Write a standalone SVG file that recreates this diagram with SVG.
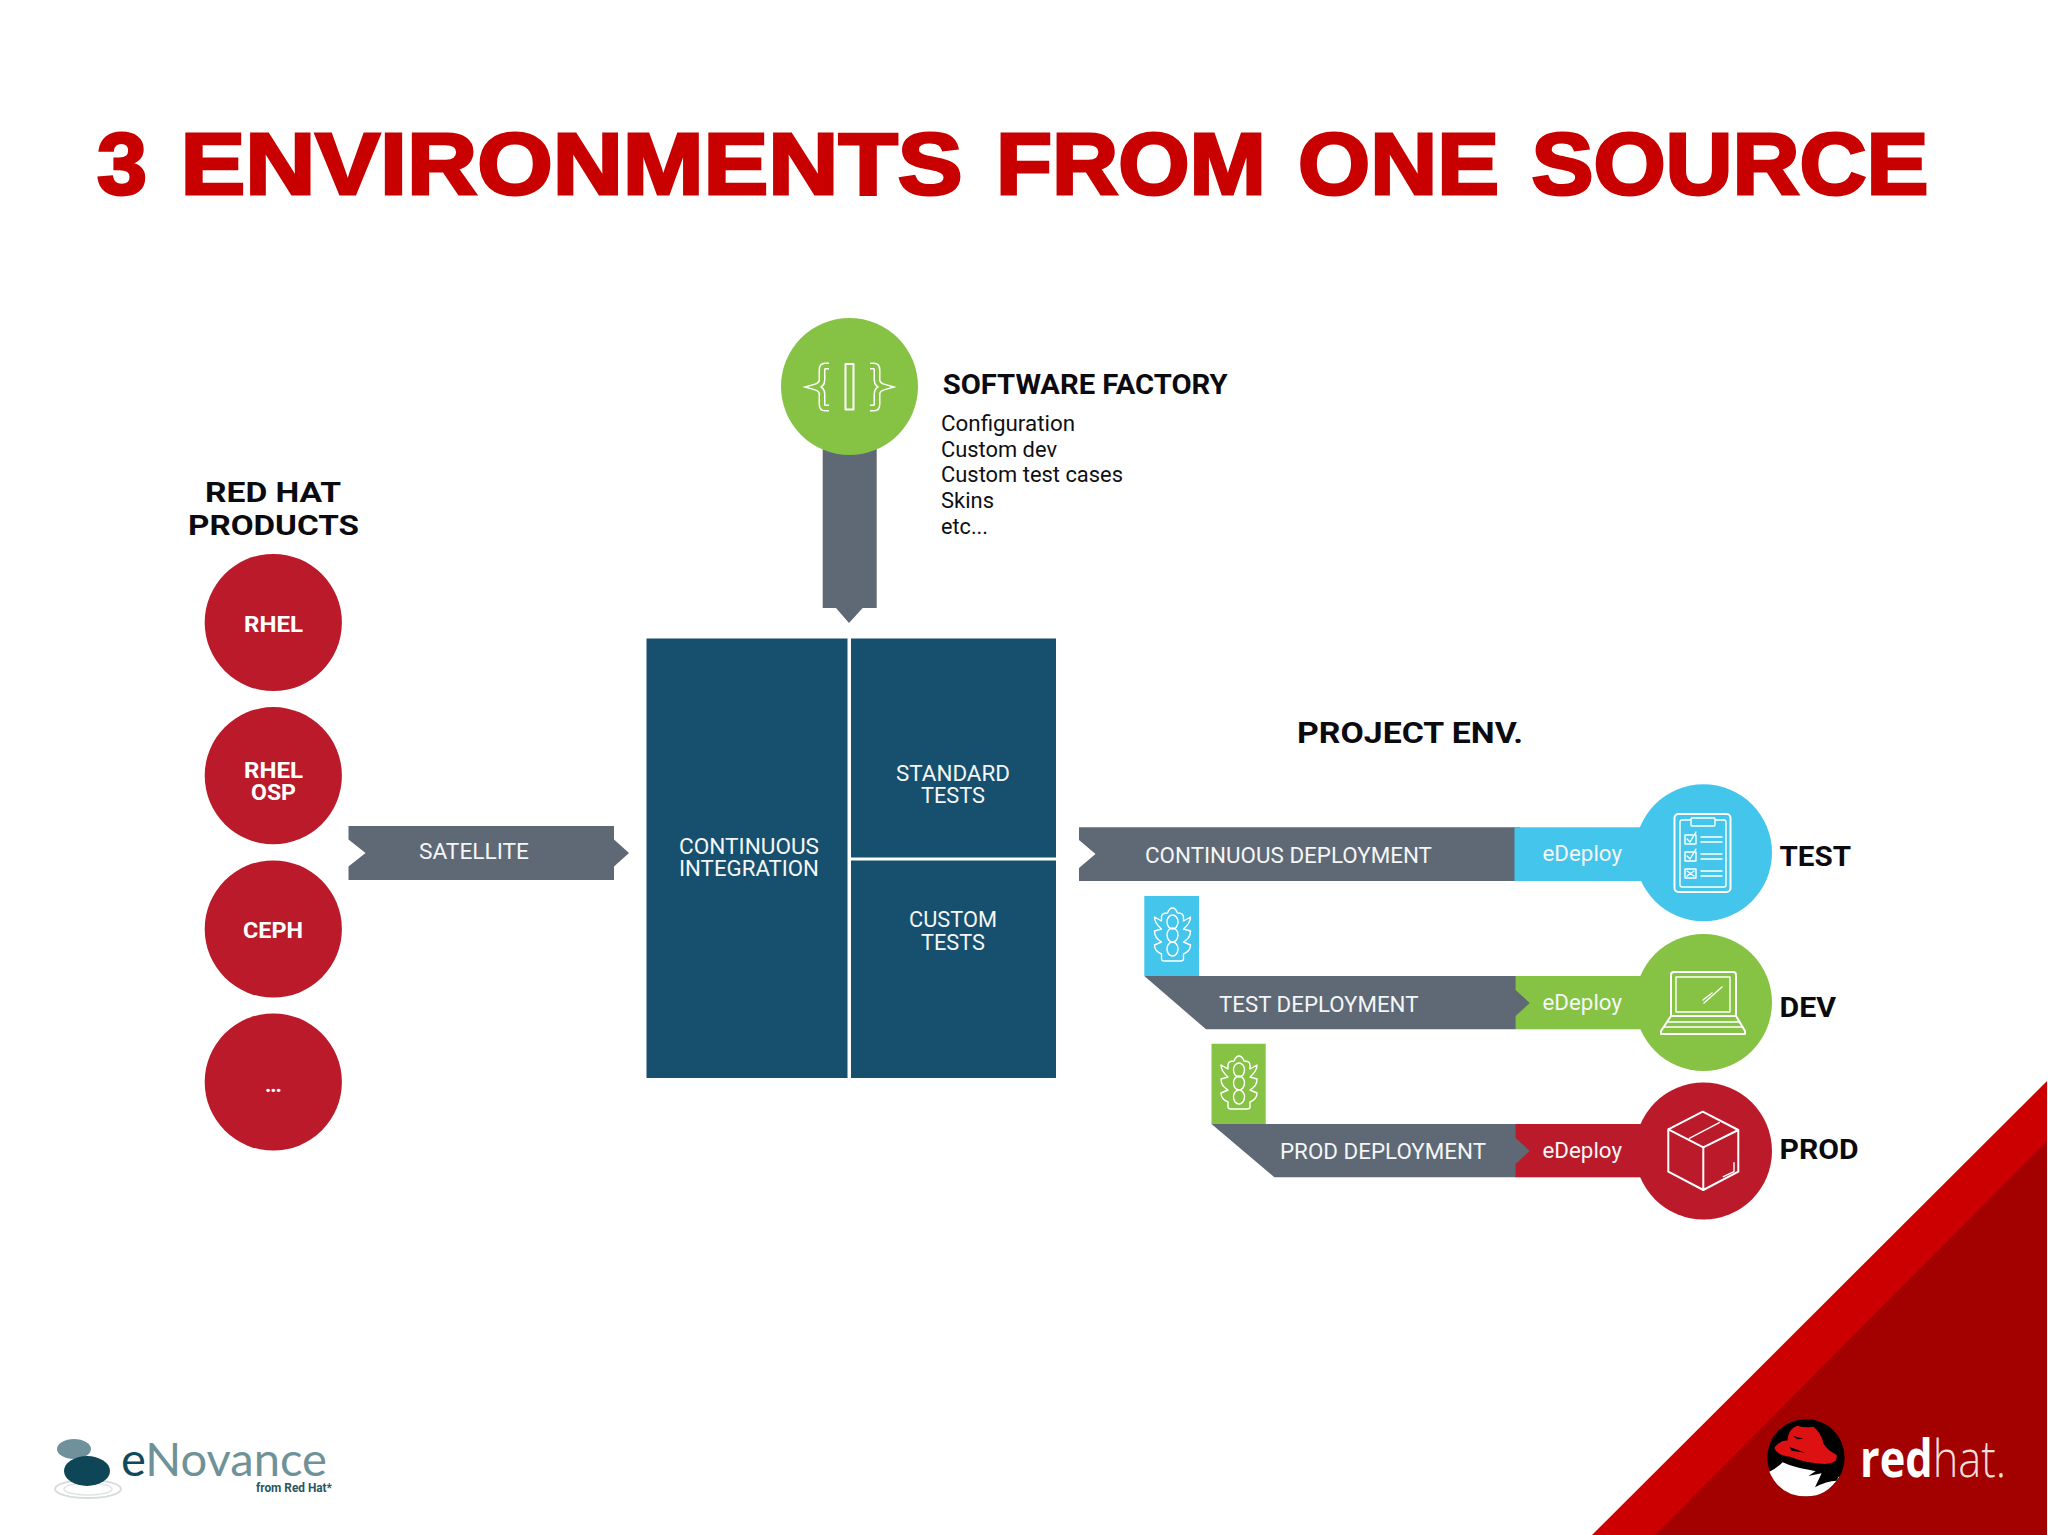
<svg xmlns="http://www.w3.org/2000/svg" xmlns:xlink="http://www.w3.org/1999/xlink" width="2048" height="1535" viewBox="0 0 2048 1535">
<style>
text{font-family:Roboto,"Noto Sans",sans-serif}
.title{font-family:"Liberation Sans",Arial,sans-serif;font-weight:700;font-size:88px;fill:#c80000;stroke:#c80000;stroke-width:3px;stroke-linejoin:miter}
.h{font-weight:700;fill:#0b0b0f;font-size:28px}
.b{fill:#0f0f14;font-size:22px}
.w{fill:#f4f6f7;font-size:22px}
.wb{fill:#fff;font-size:22px;font-weight:700}
.red{fill:#bb1a2b}.grey{fill:#5f6875}.navy{fill:#17506e}.blue{fill:#44c5ec}.green{fill:#86c344}
.ic{fill:none;stroke:#fff;stroke-width:2;stroke-linejoin:round;stroke-linecap:round}
.thin{stroke-width:1.4}
</style>
<defs>
<symbol id="light" overflow="visible">
<path class="ic thin" d="M-11 -14V-18Q-11 -22 -5 -22Q-3 -27 0 -27Q3 -27 5 -22Q11 -22 11 -18V-14L18 -18Q18 -12 11 -6L18 -4Q18 3 11 7L18 10Q18 16 11 19V24Q11 26 8 26H-8Q-11 26 -11 24V19Q-18 16 -18 10L-11 7Q-18 3 -18 -4L-11 -6Q-18 -12 -18 -18Z"/>
<ellipse class="ic thin" cx="0" cy="-13" rx="5.5" ry="7"/>
<ellipse class="ic thin" cx="0" cy="0" rx="5.5" ry="7"/>
<ellipse class="ic thin" cx="0" cy="14" rx="5.5" ry="7"/>
</symbol>
</defs>
<rect width="2048" height="1535" fill="#fff"/>
<text class="title" y="194"><tspan x="97" textLength="50" lengthAdjust="spacingAndGlyphs">3</tspan> <tspan x="180.5" textLength="782" lengthAdjust="spacingAndGlyphs">ENVIRONMENTS</tspan> <tspan x="996" textLength="270" lengthAdjust="spacingAndGlyphs">FROM</tspan> <tspan x="1298" textLength="201" lengthAdjust="spacingAndGlyphs">ONE</tspan> <tspan x="1531.5" textLength="397" lengthAdjust="spacingAndGlyphs">SOURCE</tspan></text>

<g id="connectors">
<path class="grey" d="M348.5 826H614V839.5L629 853L614 866.5V880H348.5V866.5L365.5 853L348.5 839.5Z"/>
<path class="grey" d="M822.7 440H876.7V608H862.7L849 623L836 608H822.7Z"/>
<path class="grey" d="M1079 827.3H1520V881H1079V868L1095.5 854L1079 840Z"/>
<path class="blue" d="M1144.3 896H1199V976H1144.3Z"/>
<path class="green" d="M1211.5 1043.7H1265.7V1124H1211.5Z"/>
<rect class="blue" x="1514.5" y="827.3" width="130" height="53.7"/>
<rect class="green" x="1515" y="976" width="130" height="53.3"/>
<rect class="red" x="1515" y="1124" width="130" height="53.3"/>
<path class="grey" d="M1144.3 976H1515.6V990L1529.7 1003L1515.6 1016V1029.3H1206Z"/>
<path class="grey" d="M1211.5 1124H1515.6V1138L1529.7 1151L1515.6 1164V1177.3H1274.4Z"/>
<use href="#light" x="1172.5" y="935"/>
<use href="#light" x="1239" y="1083"/>
<text class="w" x="419" y="859" textLength="110" lengthAdjust="spacingAndGlyphs">SATELLITE</text>
<text class="w" x="1145" y="863" textLength="287" lengthAdjust="spacingAndGlyphs">CONTINUOUS DEPLOYMENT</text>
<text class="w" x="1219" y="1012" textLength="199.5" lengthAdjust="spacingAndGlyphs">TEST DEPLOYMENT</text>
<text class="w" x="1280" y="1159" textLength="206" lengthAdjust="spacingAndGlyphs">PROD DEPLOYMENT</text>
<text class="w" x="1542.5" y="861" textLength="79.5" lengthAdjust="spacingAndGlyphs">eDeploy</text>
<text class="w" x="1542.5" y="1010" textLength="79.5" lengthAdjust="spacingAndGlyphs">eDeploy</text>
<text class="w" x="1542.5" y="1157.5" textLength="79.5" lengthAdjust="spacingAndGlyphs">eDeploy</text>
</g>

<g id="red-hat-products">
<text class="h" x="205" y="502" textLength="136" lengthAdjust="spacingAndGlyphs">RED HAT</text>
<text class="h" x="188" y="535" textLength="171" lengthAdjust="spacingAndGlyphs">PRODUCTS</text>
</g>
<g id="node-rhel"><circle class="red" cx="273.3" cy="622.5" r="68.6"/><text class="wb" x="244" y="632" textLength="59" lengthAdjust="spacingAndGlyphs">RHEL</text></g>
<g id="node-rhel-osp"><circle class="red" cx="273.3" cy="775.7" r="68.6"/><text class="wb" x="244" y="778" textLength="59" lengthAdjust="spacingAndGlyphs">RHEL</text><text class="wb" x="251" y="799.5" textLength="45" lengthAdjust="spacingAndGlyphs">OSP</text></g>
<g id="node-ceph"><circle class="red" cx="273.3" cy="929" r="68.6"/><text class="wb" x="243" y="938" textLength="60" lengthAdjust="spacingAndGlyphs">CEPH</text></g>
<g id="node-more"><circle class="red" cx="273.3" cy="1082" r="68.6"/><text class="wb" x="265" y="1092" textLength="17" lengthAdjust="spacing">...</text></g>

<g id="node-ci">
<rect class="navy" x="646.5" y="638.5" width="201" height="439.5"/>
<text class="w" x="679" y="854" textLength="140" lengthAdjust="spacingAndGlyphs">CONTINUOUS</text>
<text class="w" x="679" y="876" textLength="140" lengthAdjust="spacingAndGlyphs">INTEGRATION</text>
</g>
<g id="node-standard-tests">
<rect class="navy" x="851" y="638.5" width="205" height="219"/>
<text class="w" x="896" y="781" textLength="114" lengthAdjust="spacingAndGlyphs">STANDARD</text>
<text class="w" x="921" y="803" textLength="64" lengthAdjust="spacingAndGlyphs">TESTS</text>
</g>
<g id="node-custom-tests">
<rect class="navy" x="851" y="860.5" width="205" height="217.5"/>
<text class="w" x="909" y="927" textLength="88" lengthAdjust="spacingAndGlyphs">CUSTOM</text>
<text class="w" x="921" y="950" textLength="64" lengthAdjust="spacingAndGlyphs">TESTS</text>
</g>

<g id="node-software-factory">
<circle class="green" cx="849.5" cy="386.5" r="68.5"/>
<path fill="none" stroke="#fff" stroke-width="7" d="M829 366H825Q822 366 822 370V380Q822 385 815 387Q822 389 822 394V404Q822 408 825 408H829M870 366H874Q877 366 877 370V380Q877 385 884 387Q877 389 877 394V404Q877 408 874 408H870"/>
<path fill="none" stroke="#86c344" stroke-width="4" d="M830 366H825Q822 366 822 370V380Q822 385 815 387Q822 389 822 394V404Q822 408 825 408H830M869 366H874Q877 366 877 370V380Q877 385 884 387Q877 389 877 394V404Q877 408 874 408H869"/>
<rect class="ic" x="845.5" y="364" width="8" height="45.5"/>
<text class="h" x="942.7" y="394" textLength="285" lengthAdjust="spacingAndGlyphs">SOFTWARE FACTORY</text>
<text class="b" x="941" y="431" textLength="134" lengthAdjust="spacingAndGlyphs">Configuration</text>
<text class="b" x="941" y="457" textLength="116" lengthAdjust="spacingAndGlyphs">Custom dev</text>
<text class="b" x="941" y="482" textLength="182" lengthAdjust="spacingAndGlyphs">Custom test cases</text>
<text class="b" x="941" y="508" textLength="53" lengthAdjust="spacingAndGlyphs">Skins</text>
<text class="b" x="941" y="534" textLength="47" lengthAdjust="spacingAndGlyphs">etc...</text>
</g>

<text class="h" x="1297" y="742.5" style="font-size:30px" textLength="226" lengthAdjust="spacingAndGlyphs">PROJECT ENV.</text>

<g id="node-test">
<circle class="blue" cx="1703.5" cy="852.7" r="68.5"/>
<rect class="ic" x="1674.5" y="814" width="56" height="78" rx="4"/>
<rect class="ic thin" x="1680" y="820" width="46" height="67" rx="2"/>
<rect class="ic thin" x="1691" y="818" width="24" height="8" rx="1" style="fill:#44c5ec"/>
<path class="ic thin" d="M1685 835H1696V844H1685ZM1685 852H1696V861H1685ZM1685 869H1696V878H1685ZM1687 839L1690 842L1696 832M1687 856L1690 859L1696 849M1687 871L1694 876M1694 871L1687 876M1701 837H1722M1701 842H1722M1701 854H1722M1701 859H1722M1701 871H1722M1701 876H1722"/>
<text class="h" x="1779.5" y="866" textLength="71.5" lengthAdjust="spacingAndGlyphs">TEST</text>
</g>
<g id="node-dev">
<circle class="green" cx="1703.5" cy="1002.5" r="68.5"/>
<path class="ic" d="M1671 1016V975Q1671 972 1674 972H1733Q1736 972 1736 975V1016"/>
<rect class="ic thin" x="1676" y="977" width="54" height="35"/>
<path class="ic" d="M1671 1016L1661 1031V1034H1745V1031L1736 1016Z"/>
<path class="ic thin" d="M1667 1022H1740M1664 1027H1742M1704 1003L1722 987M1703 1000L1712 993"/>
<text class="h" x="1779.5" y="1017" textLength="56.5" lengthAdjust="spacingAndGlyphs">DEV</text>
</g>
<g id="node-prod">
<circle class="red" cx="1703.5" cy="1151" r="68.5"/>
<path class="ic" d="M1702.7 1111.7L1738.3 1130L1703.3 1147.3L1668.3 1129.3ZM1668.3 1129.3V1171.7L1703.3 1190L1738.3 1171.7V1130M1703.3 1147.3V1190"/>
<path class="ic thin" d="M1689.3 1138.3L1719.3 1122.7M1723.3 1176.7L1734 1171.7V1162.7"/>
<text class="h" x="1779.5" y="1159" textLength="79" lengthAdjust="spacingAndGlyphs">PROD</text>
</g>

<g id="corner">
<path fill="#cc0000" d="M2047 1081V1535H1592Z"/>
<path fill="#a30000" d="M2047 1141V1535H1655Z"/>
<g transform="translate(1560 1060) scale(.33333)">
<circle cx="738" cy="1193" r="116" fill="#000"/>
<path fill="#fff" d="M628 1235Q650 1225 668 1207Q700 1222 750 1230Q800 1240 838 1250Q800 1310 738 1309Q660 1309 628 1235Z"/>
<path fill="#000" d="M745 1248L785 1240L765 1282Q800 1262 830 1262L838 1245L780 1225Z"/>
<path fill="#dd1111" d="M643 1163Q662 1140 682 1142Q685 1105 712 1097Q735 1105 760 1100Q785 1120 790 1150Q800 1170 830 1185Q835 1210 795 1212Q740 1210 690 1190Q650 1185 643 1163Z"/>
<path fill="#000" d="M700 1128L730 1136L712 1138ZM688 1160L735 1178L695 1172Z"/>
</g>
<text x="1860" y="1477" font-size="52" fill="#fff" textLength="146" lengthAdjust="spacingAndGlyphs" style="font-family:'Open Sans',sans-serif"><tspan font-weight="700">red</tspan><tspan font-weight="300" fill="#f3dede">hat.</tspan></text>
</g>

<g id="enovance-logo">
<ellipse cx="88" cy="1489" rx="33" ry="9" fill="none" stroke="#d5dcdd" stroke-width="2"/>
<ellipse cx="88" cy="1489" rx="24" ry="6" fill="none" stroke="#dfe5e5" stroke-width="1.5"/>
<ellipse cx="74" cy="1449" rx="17" ry="10" fill="#6f919c"/>
<ellipse cx="87" cy="1471" rx="23" ry="15" fill="#0e4658"/>
<text x="121" y="1476" font-size="46" textLength="206" lengthAdjust="spacingAndGlyphs" fill="#6f9298" style="font-family:Lato,sans-serif"><tspan fill="#0f4a5c">e</tspan>Novance</text>
<text x="256" y="1491.5" font-size="12" font-weight="700" fill="#2a5561" textLength="76" lengthAdjust="spacingAndGlyphs">from Red Hat*</text>
</g>
</svg>
